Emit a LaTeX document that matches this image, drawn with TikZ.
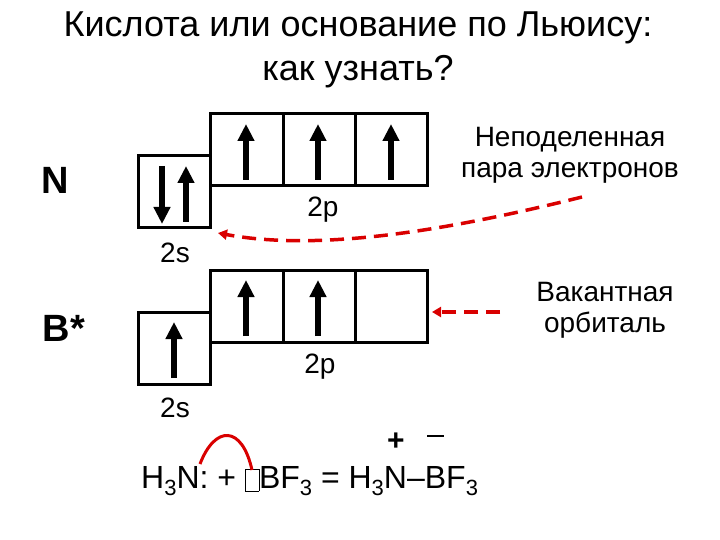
\documentclass[tikz,border=0pt]{standalone}
\usepackage{fontspec}
\setmainfont{Liberation Sans}
\usetikzlibrary{arrows.meta}
\begin{document}
\begin{tikzpicture}[x=1pt,y=-1pt,
  orb/.style={draw,line width=3pt},
  up/.style={line width=6pt,-{Triangle[length=17pt,width=16pt]}},
  red/.style={draw=red!85!black,line width=3.5pt,dash pattern=on 14pt off 8pt,-{Triangle[length=9pt,width=10pt]}},
  lbl/.style={font=\fontsize{28}{31}\selectfont}]
\useasboundingbox (0,0) rectangle (720,540);
\node[font=\fontsize{36}{44}\selectfont,align=center] (title) at (358,50) {Кислота или основание по Льюису:\\как узнать?};
\node[font=\fontsize{38}{42}\selectfont\bfseries] (N) at (55,180) {N};
\node[font=\fontsize{38}{42}\selectfont\bfseries] (B) at (64,328) {B*};
% N orbitals
\draw[orb] (138,156) rectangle (210,228);
\draw[orb] (210,114) rectangle (427,186);
\draw[orb] (283,114) -- (283,186) (355,114) -- (355,186);
\draw[up] (162,166) -- (162,224);
\draw[up] (186,222) -- (186,166);
\foreach \x in {246,318,391} \draw[up] (\x,180) -- (\x,124);
% B orbitals
\draw[orb] (138,312) rectangle (210,384);
\draw[orb] (210,270) rectangle (427,342);
\draw[orb] (283,270) -- (283,342) (355,270) -- (355,342);
\draw[up] (174,378) -- (174,322);
\foreach \x in {246,318} \draw[up] (\x,336) -- (\x,280);
\node[lbl] (s1) at (175,253) {2s};
\node[lbl] (p1) at (323,210) {2p};
\node[lbl] (s2) at (175,408) {2s};
\node[lbl] (p2) at (320,367) {2p};
\node[lbl,align=center] (lp) at (570,155) {Неподеленная\\пара электронов};
\node[lbl,align=center] (vac) at (605,310) {Вакантная\\орбиталь};
\coordinate (a1) at (582,197);
\coordinate (a2) at (218,233);
\draw[red] (a1) .. controls (450,230) and (320,252) .. (a2);
\coordinate (b1) at (500,312);
\coordinate (b2) at (432,312);
\draw[red] (b1) -- (b2);
% equation
\newcommand\sbt[1]{\raisebox{-7pt}{\fontsize{22}{24}\selectfont #1}}
\node[font=\fontsize{32}{36}\selectfont,anchor=base west,inner sep=0] (eq) at (141,488)
 {H\sbt{3}N: + \framebox[14pt][c]{\rule{0pt}{16pt}}BF\sbt{3} = H\sbt{3}N–BF\sbt{3}};
\node[font=\fontsize{30}{34}\selectfont\bfseries] (pl) at (396,442) {+};
\draw[line width=1.8pt] (427,436) -- (444,436);
\draw[red!85!black,line width=3pt] (200,464) .. controls (215,425) and (242,425) .. (252,470);
\end{tikzpicture}
\end{document}
